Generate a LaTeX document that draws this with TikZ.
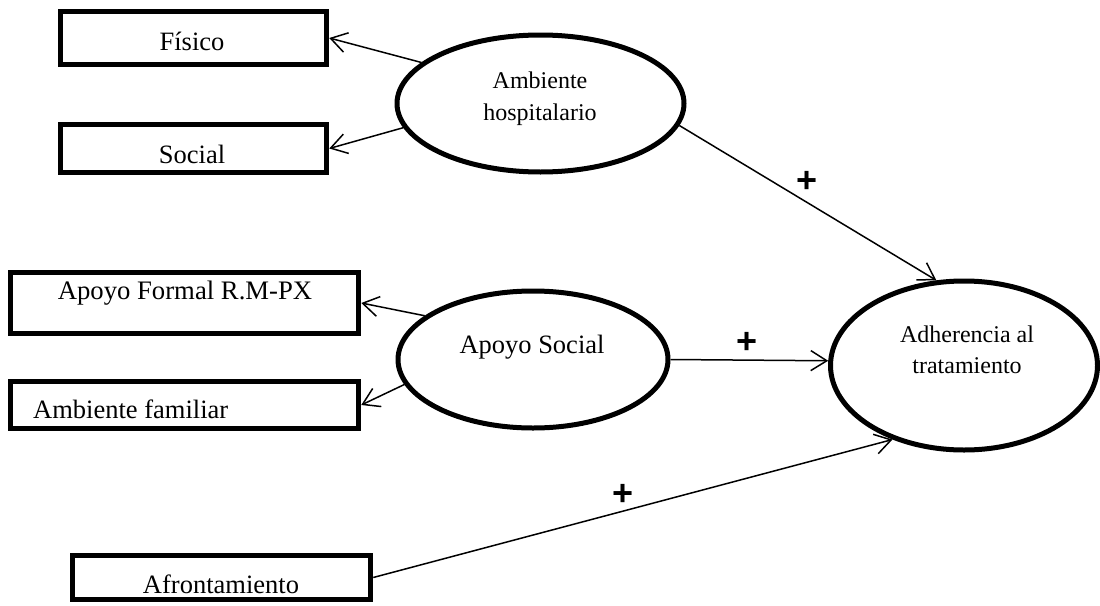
\documentclass[tikz,border=0pt]{standalone}
\usepackage{fontspec}
\setmainfont{Liberation Serif}
\newfontfamily\plusfont{Liberation Sans}
\usetikzlibrary{shapes.geometric,arrows.meta}
\tikzset{
  boxnode/.style={draw, line width=5pt, rectangle, inner sep=0pt},
  ellnode/.style={draw, line width=5pt, ellipse, inner sep=0pt},
  txt/.style={inner sep=0pt, anchor=base, font=\fontsize{26.5}{30}\selectfont},
  etxt/.style={inner sep=0pt, anchor=base, font=\fontsize{24}{30}\selectfont},
  conn/.style={line width=1.5pt, -{Straight Barb[length=16pt,width=20pt]}},
  plus/.style={inner sep=0pt, font=\plusfont\bfseries\fontsize{36}{36}\selectfont}
}
\begin{document}
\begin{tikzpicture}[x=1pt,y=-1pt]
\useasboundingbox (0,0) rectangle (1100,605);
% boxes
\node[boxnode, minimum width=266.5pt, minimum height=53.5pt] (F) at (193.5,38) {};
\node[boxnode, minimum width=266.5pt, minimum height=48.5pt] (S) at (193.5,148.5) {};
\node[boxnode, minimum width=348.5pt, minimum height=61.5pt] (AF) at (184.5,303) {};
\node[boxnode, minimum width=348.5pt, minimum height=47.5pt] (AM) at (184.5,405) {};
\node[boxnode, minimum width=298.5pt, minimum height=44.5pt] (AR) at (221.5,577.5) {};
% box texts
\node[txt] (tF) at (192,50) {Físico};
\node[txt] (tS) at (192,163) {Social};
\node[txt, font=\fontsize{26.7}{30}\selectfont] (tAF) at (185,299) {Apoyo Formal R.M-PX};
\node[txt, anchor=base west] (tAM) at (33,418) {Ambiente familiar};
\node[txt] (tAR) at (221,593) {Afrontamiento};
% ellipses
\node[ellnode, minimum width=287pt, minimum height=137pt] (AH) at (540.5,103.5) {};
\node[ellnode, minimum width=270pt, minimum height=137pt] (AS) at (533,359.5) {};
\node[ellnode, minimum width=267pt, minimum height=169pt] (AD) at (964,365.5) {};
% ellipse texts
\node[etxt] (tAH1) at (540,88) {Ambiente};
\node[etxt] (tAH2) at (540,120) {hospitalario};
\node[txt] (tAS) at (532,353) {Apoyo Social};
\node[etxt] (tAD1) at (967,342) {Adherencia al};
\node[etxt] (tAD2) at (967,373) {tratamiento};
% connectors
\draw[conn] (AH.161.7) -- (F.east);
\draw[conn] (AH.190) -- (S.east);
\draw[conn] (AH.351.6) -- (AD.108.3);
\draw[conn] (AS.158) -- (AF.east);
\draw[conn] (AS.191.7) -- (AM.east);
\draw[conn] (AS.0) -- (AD.178);
\draw[conn] (AR.east) -- (AD.226.4);
% signs
\node[plus] (p1) at (807,182) {+};
\node[plus] (p2) at (747,343) {+};
\node[plus] (p3) at (623,495) {+};
\end{tikzpicture}
\end{document}
